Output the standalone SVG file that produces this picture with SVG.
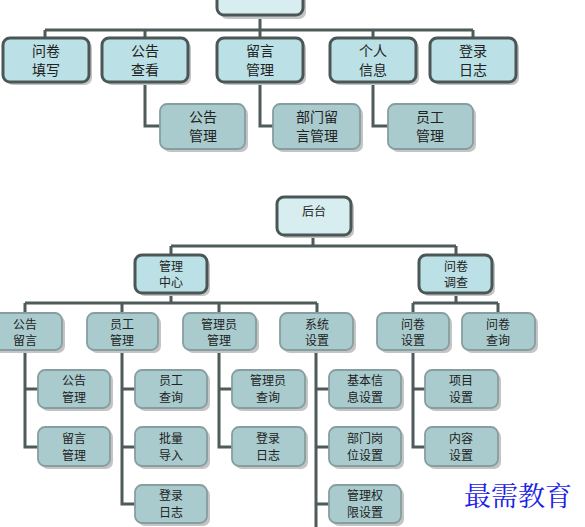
<svg xmlns="http://www.w3.org/2000/svg" width="585" height="527" viewBox="0 0 585 527">
<defs>
<style>
.t{font-family:"Noto Sans CJK SC","Noto Sans CJK JP",sans-serif;fill:#222;text-anchor:middle}
.t1{font-size:14px}
.t2{font-size:12px}
.root{fill:#d8edf0;stroke:#4b5757;stroke-width:3}
.l1{fill:#bbe0e5;stroke:#4b5757;stroke-width:3}
.sub{fill:#a9cbce;stroke:#869e9f;stroke-width:1.8}
.sh{fill:#c4c4c4}
.c{fill:none;stroke:#4e5b5b;stroke-width:3}
.wm{font-family:"AR PL UKai CN","Noto Serif CJK SC","Noto Sans CJK SC",serif;font-size:27px;fill:#1a22e6}
</style>
</defs>
<rect width="585" height="527" fill="#fff"/>
<g id="connectors">
<path class="c" d="M260 15V30M45 30H473M45 30V38M145 30V38M260 30V38M373 30V38M473 30V38"/>
<path class="c" d="M145 82V126H160M260 82V126H273M373 82V126H388"/>
<path class="c" d="M313 235V246M171 246H456M171 246V255M456 246V255"/>
<path class="c" d="M171 293V303M25 303H317M25 303V313M122 303V313M219 303V313M317 303V313"/>
<path class="c" d="M456 293V303M413 303H498M413 303V313M498 303V313"/>
<path class="c" d="M25 350V447H38M25 389H38"/>
<path class="c" d="M122 350V504H135M122 389H135M122 447H135"/>
<path class="c" d="M219 350V447H232M219 389H232"/>
<path class="c" d="M316 350V527M316 389H329M316 447H329M316 504H329"/>
<path class="c" d="M413 350V447H425M413 389H425"/>
</g>
<g id="n_root_top"><rect class="sh" x="220" y="-12" width="86" height="31" rx="7"/><rect class="root" x="217" y="-15" width="86" height="30" rx="7"/></g>
<g id="n_wjtx"><rect class="sh" x="6" y="41" width="86" height="44" rx="7"/><rect class="l1" x="3" y="38" width="86" height="44" rx="7"/><text class="t t1" x="46" y="56">问卷</text><text class="t t1" x="46" y="75">填写</text></g>
<g id="n_ggck"><rect class="sh" x="105" y="41" width="86" height="44" rx="7"/><rect class="l1" x="102" y="38" width="86" height="44" rx="7"/><text class="t t1" x="145" y="56">公告</text><text class="t t1" x="145" y="75">查看</text></g>
<g id="n_lygl"><rect class="sh" x="220" y="41" width="86" height="44" rx="7"/><rect class="l1" x="217" y="38" width="86" height="44" rx="7"/><text class="t t1" x="260" y="56">留言</text><text class="t t1" x="260" y="75">管理</text></g>
<g id="n_grxx"><rect class="sh" x="333" y="41" width="86" height="44" rx="7"/><rect class="l1" x="330" y="38" width="86" height="44" rx="7"/><text class="t t1" x="373" y="56">个人</text><text class="t t1" x="373" y="75">信息</text></g>
<g id="n_dlrz"><rect class="sh" x="433" y="41" width="86" height="44" rx="7"/><rect class="l1" x="430" y="38" width="86" height="44" rx="7"/><text class="t t1" x="473" y="56">登录</text><text class="t t1" x="473" y="75">日志</text></g>
<g id="n_gggl"><rect class="sh" x="163" y="107" width="85" height="45" rx="7"/><rect class="sub" x="160" y="104" width="85" height="45" rx="7"/><text class="t t1" x="203" y="122">公告</text><text class="t t1" x="203" y="141">管理</text></g>
<g id="n_bmly"><rect class="sh" x="276" y="107" width="87" height="45" rx="7"/><rect class="sub" x="273" y="104" width="87" height="45" rx="7"/><text class="t t1" x="317" y="122">部门留</text><text class="t t1" x="317" y="141">言管理</text></g>
<g id="n_yggl_top"><rect class="sh" x="391" y="107" width="85" height="45" rx="7"/><rect class="sub" x="388" y="104" width="85" height="45" rx="7"/><text class="t t1" x="430" y="122">员工</text><text class="t t1" x="430" y="141">管理</text></g>
<g id="n_houtai"><rect class="sh" x="280" y="200" width="74" height="38" rx="7"/><rect class="root" x="277" y="197" width="74" height="38" rx="7"/><text class="t t2" x="314" y="216">后台</text></g>
<g id="n_glzx"><rect class="sh" x="138" y="258" width="72" height="38" rx="7"/><rect class="l1" x="135" y="255" width="72" height="38" rx="7"/><text class="t t2" x="171" y="271">管理</text><text class="t t2" x="171" y="287">中心</text></g>
<g id="n_wjdc"><rect class="sh" x="422" y="258" width="73" height="38" rx="7"/><rect class="l1" x="419" y="255" width="73" height="38" rx="7"/><text class="t t2" x="456" y="271">问卷</text><text class="t t2" x="456" y="287">调查</text></g>
<g id="n_ggly"><rect class="sh" x="-9" y="316" width="74" height="37" rx="7"/><rect class="sub" x="-12" y="313" width="74" height="37" rx="7"/><text class="t t2" x="25" y="329">公告</text><text class="t t2" x="25" y="345">留言</text></g>
<g id="n_yggl"><rect class="sh" x="90" y="316" width="71" height="37" rx="7"/><rect class="sub" x="87" y="313" width="71" height="37" rx="7"/><text class="t t2" x="122" y="329">员工</text><text class="t t2" x="122" y="345">管理</text></g>
<g id="n_glygl"><rect class="sh" x="186" y="316" width="73" height="37" rx="7"/><rect class="sub" x="183" y="313" width="73" height="37" rx="7"/><text class="t t2" x="219" y="329">管理员</text><text class="t t2" x="219" y="345">管理</text></g>
<g id="n_xtsz"><rect class="sh" x="283" y="316" width="73" height="37" rx="7"/><rect class="sub" x="280" y="313" width="73" height="37" rx="7"/><text class="t t2" x="317" y="329">系统</text><text class="t t2" x="317" y="345">设置</text></g>
<g id="n_wjsz"><rect class="sh" x="380" y="316" width="72" height="37" rx="7"/><rect class="sub" x="377" y="313" width="72" height="37" rx="7"/><text class="t t2" x="413" y="329">问卷</text><text class="t t2" x="413" y="345">设置</text></g>
<g id="n_wjcx"><rect class="sh" x="465" y="316" width="73" height="37" rx="7"/><rect class="sub" x="462" y="313" width="73" height="37" rx="7"/><text class="t t2" x="498" y="329">问卷</text><text class="t t2" x="498" y="345">查询</text></g>
<g id="n_gggl2"><rect class="sh" x="41" y="373" width="72" height="38" rx="7"/><rect class="sub" x="38" y="370" width="72" height="38" rx="7"/><text class="t t2" x="74" y="385">公告</text><text class="t t2" x="74" y="402">管理</text></g>
<g id="n_lygl2"><rect class="sh" x="41" y="430" width="72" height="39" rx="7"/><rect class="sub" x="38" y="427" width="72" height="39" rx="7"/><text class="t t2" x="74" y="443">留言</text><text class="t t2" x="74" y="460">管理</text></g>
<g id="n_ygcx"><rect class="sh" x="138" y="373" width="72" height="38" rx="7"/><rect class="sub" x="135" y="370" width="72" height="38" rx="7"/><text class="t t2" x="171" y="385">员工</text><text class="t t2" x="171" y="402">查询</text></g>
<g id="n_pldr"><rect class="sh" x="138" y="430" width="72" height="39" rx="7"/><rect class="sub" x="135" y="427" width="72" height="39" rx="7"/><text class="t t2" x="171" y="443">批量</text><text class="t t2" x="171" y="460">导入</text></g>
<g id="n_dlrz2"><rect class="sh" x="138" y="488" width="72" height="38" rx="7"/><rect class="sub" x="135" y="485" width="72" height="38" rx="7"/><text class="t t2" x="171" y="500">登录</text><text class="t t2" x="171" y="517">日志</text></g>
<g id="n_glycx"><rect class="sh" x="235" y="373" width="73" height="38" rx="7"/><rect class="sub" x="232" y="370" width="73" height="38" rx="7"/><text class="t t2" x="268" y="385">管理员</text><text class="t t2" x="268" y="402">查询</text></g>
<g id="n_dlrz3"><rect class="sh" x="235" y="430" width="73" height="39" rx="7"/><rect class="sub" x="232" y="427" width="73" height="39" rx="7"/><text class="t t2" x="268" y="443">登录</text><text class="t t2" x="268" y="460">日志</text></g>
<g id="n_jbxx"><rect class="sh" x="332" y="373" width="72" height="38" rx="7"/><rect class="sub" x="329" y="370" width="72" height="38" rx="7"/><text class="t t2" x="365" y="385">基本信</text><text class="t t2" x="365" y="402">息设置</text></g>
<g id="n_bmgw"><rect class="sh" x="332" y="430" width="72" height="39" rx="7"/><rect class="sub" x="329" y="427" width="72" height="39" rx="7"/><text class="t t2" x="365" y="443">部门岗</text><text class="t t2" x="365" y="460">位设置</text></g>
<g id="n_glqx"><rect class="sh" x="332" y="488" width="72" height="38" rx="7"/><rect class="sub" x="329" y="485" width="72" height="38" rx="7"/><text class="t t2" x="365" y="500">管理权</text><text class="t t2" x="365" y="517">限设置</text></g>
<g id="n_xmsz"><rect class="sh" x="428" y="373" width="73" height="38" rx="7"/><rect class="sub" x="425" y="370" width="73" height="38" rx="7"/><text class="t t2" x="461" y="385">项目</text><text class="t t2" x="461" y="402">设置</text></g>
<g id="n_nrsz"><rect class="sh" x="428" y="430" width="73" height="39" rx="7"/><rect class="sub" x="425" y="427" width="73" height="39" rx="7"/><text class="t t2" x="461" y="443">内容</text><text class="t t2" x="461" y="460">设置</text></g>
<text class="wm" x="464" y="506">最需教育</text>
</svg>
